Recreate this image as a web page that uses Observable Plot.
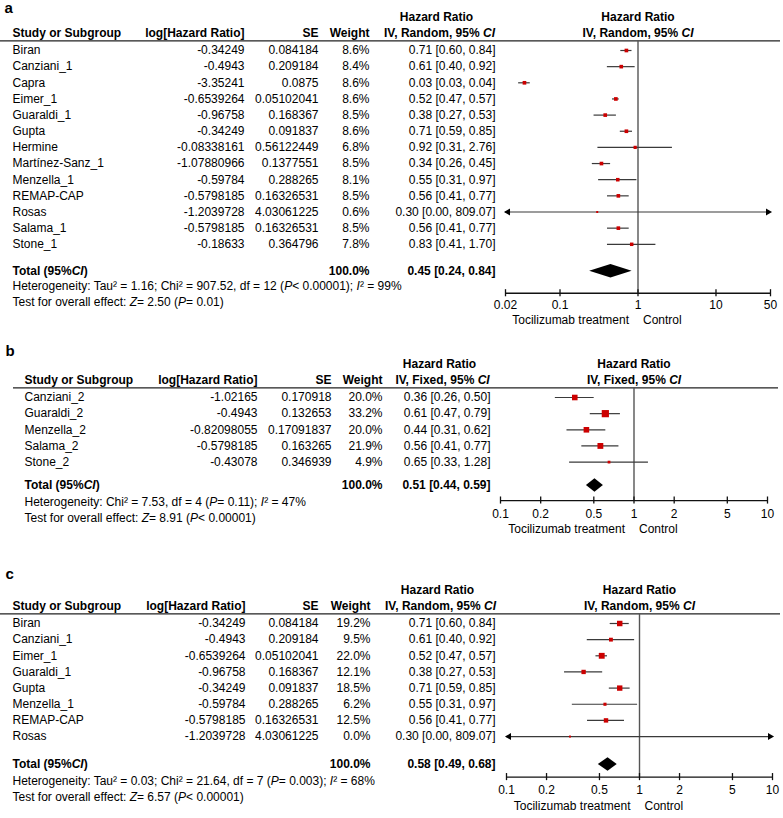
<!DOCTYPE html>
<html>
<head>
<meta charset="utf-8">
<script src="https://cdn.jsdelivr.net/npm/d3@7"></script>
<script src="https://cdn.jsdelivr.net/npm/@observablehq/plot@0.6"></script>
<style>
  html, body { margin: 0; padding: 0; background: #fff; }
  #chart { width: 783px; }
  #chart svg { display: block; }
</style>
</head>
<body>
<div id="chart"></div>
<script>
// ---------- Panel a data ----------
const studiesA = ["Biran","Canziani_1","Capra","Eimer_1","Guaraldi_1","Gupta","Hermine","Martínez-Sanz_1","Menzella_1","REMAP-CAP","Rosas","Salama_1","Stone_1"];
const logHRA = ["-0.34249","-0.4943","-3.35241","-0.6539264","-0.96758","-0.34249","-0.08338161","-1.07880966","-0.59784","-0.5798185","-1.2039728","-0.5798185","-0.18633"];
const seA = ["0.084184","0.209184","0.0875","0.05102041","0.168367","0.091837","0.56122449","0.1377551","0.288265","0.16326531","4.03061225","0.16326531","0.364796"];
const weightA = [8.6,8.4,8.6,8.6,8.5,8.6,6.8,8.5,8.1,8.5,0.6,8.5,7.8];
const hrA = [0.71,0.61,0.03,0.52,0.38,0.71,0.92,0.34,0.55,0.56,0.30,0.56,0.83];
const loA = [0.60,0.40,0.03,0.47,0.27,0.59,0.31,0.26,0.31,0.41,0.00,0.41,0.41];
const hiA = [0.84,0.92,0.04,0.57,0.53,0.85,2.76,0.45,0.97,0.77,809.07,0.77,1.70];
const totalA = [0.45,0.24,0.84];
const hetA = "Heterogeneity: Tau² = 1.16; Chi² = 907.52, df = 12 ({P}< 0.00001); {I}² = 99%";
const testA = "Test for overall effect: {Z}= 2.50 ({P}= 0.01)";
const ticksA = [0.02,0.1,1,10,50];
const tickLabelsA = ["0.02","0.1","1","10","50"];

// ---------- Panel b data ----------
const studiesB = ["Canziani_2","Guaraldi_2","Menzella_2","Salama_2","Stone_2"];
const logHRB = ["-1.02165","-0.4943","-0.82098055","-0.5798185","-0.43078"];
const seB = ["0.170918","0.132653","0.17091837","0.163265","0.346939"];
const weightB = [20.0,33.2,20.0,21.9,4.9];
const hrB = [0.36,0.61,0.44,0.56,0.65];
const loB = [0.26,0.47,0.31,0.41,0.33];
const hiB = [0.50,0.79,0.62,0.77,1.28];
const totalB = [0.51,0.44,0.59];
const hetB = "Heterogeneity: Chi² = 7.53, df = 4 ({P}= 0.11); {I}² = 47%";
const testB = "Test for overall effect: {Z}= 8.91 ({P}< 0.00001)";
const ticksB = [0.1,0.2,0.5,1,2,5,10];
const tickLabelsB = ["0.1","0.2","0.5","1","2","5","10"];

// ---------- Panel c data ----------
const studiesC = ["Biran","Canziani_1","Eimer_1","Guaraldi_1","Gupta","Menzella_1","REMAP-CAP","Rosas"];
const logHRC = ["-0.34249","-0.4943","-0.6539264","-0.96758","-0.34249","-0.59784","-0.5798185","-1.2039728"];
const seC = ["0.084184","0.209184","0.05102041","0.168367","0.091837","0.288265","0.16326531","4.03061225"];
const weightC = [19.2,9.5,22.0,12.1,18.5,6.2,12.5,0.0];
const hrC = [0.71,0.61,0.52,0.38,0.71,0.55,0.56,0.30];
const loC = [0.60,0.40,0.47,0.27,0.59,0.31,0.41,0.00];
const hiC = [0.84,0.92,0.57,0.53,0.85,0.97,0.77,809.07];
const totalC = [0.58,0.49,0.68];
const hetC = "Heterogeneity: Tau² = 0.03; Chi² = 21.64, df = 7 ({P}= 0.003); {I}² = 68%";
const testC = "Test for overall effect: {Z}= 6.57 ({P}< 0.00001)";
const ticksC = [0.1,0.2,0.5,1,2,5,10];
const tickLabelsC = ["0.1","0.2","0.5","1","2","5","10"];

// ---------- drawing ----------
const W = 783, U = 16.15;
const FONT = "'Liberation Sans', Arial, Helvetica, sans-serif";
const RED = "#cc0000";
const f2 = v => v.toFixed(2);

function italicize(svg) {
  svg.querySelectorAll("text").forEach(t => {
    const s = t.textContent;
    if (!s.includes("{")) return;
    t.textContent = "";
    s.split(/(\{[^}]*\})/).forEach(part => {
      if (!part) return;
      const ts = document.createElementNS("http://www.w3.org/2000/svg", "tspan");
      if (part.startsWith("{")) { ts.setAttribute("font-style", "italic"); ts.textContent = part.slice(1, -1); }
      else ts.textContent = part;
      t.appendChild(ts);
    });
  });
}

function panel(cfg) {
  const n = cfg.studies.length;
  const rows = cfg.studies.map((s, i) => {
    const lg = +cfg.logHR[i], se = +cfg.se[i];
    return {i, s, lgText: cfg.logHR[i], seText: cfg.se[i], w: cfg.weight[i],
      label: `${f2(cfg.hr[i])} [${f2(cfg.lo[i])}, ${f2(cfg.hi[i])}]`,
      est: Math.exp(lg), l: Math.exp(lg - 1.96 * se), h: Math.exp(lg + 1.96 * se)};
  });
  const [d0, d1] = cfg.domain;
  const L = cfg.lay;
  const T = n - 1 + L.gap;
  const R = {label: L.label, head1: -2.07, head2: -1.08, line: -0.6, total: T,
    het: T + L.het, test: T + L.test, axis: T + L.axis, tick: T + L.tick, side: T + L.side};
  const ml = cfg.fl, mr = W - cfg.fr;
  const dxOf = x => x - ml;
  const c = v => () => v;
  const [tHR, tLo, tHi] = cfg.total;
  const diamond = [
    {x: tLo, y1: R.total, y2: R.total},
    {x: tHR, y1: R.total - 0.42, y2: R.total + 0.42},
    {x: tHi, y1: R.total, y2: R.total}
  ];
  const ticks = cfg.ticks.map((v, k) => ({v, t: cfg.tickLabels[k]}));
  const B = {fontWeight: "bold"};

  const svg = Plot.plot({
    width: W, height: cfg.H,
    marginLeft: ml, marginRight: mr, marginTop: 0, marginBottom: 0,
    style: {fontFamily: FONT, fontSize: "12px", background: "white", overflow: "visible", color: "#000"},
    x: {type: "log", domain: cfg.domain, axis: null},
    y: {type: "linear", domain: [-cfg.first / U, (cfg.H - cfg.first) / U], range: [0, cfg.H], axis: null},
    r: {type: "identity"},
    marks: [
      // panel tag
      Plot.text([cfg.tag], {frameAnchor: "left", y: c(R.label), text: d => d, textAnchor: "start", dx: dxOf(cfg.tagX), fontSize: 15, fontWeight: "bold"}),
      // table header
      Plot.text(["Hazard Ratio"], {frameAnchor: "left", y: c(R.head1), text: d => d, textAnchor: "middle", dx: dxOf(cfg.hrHead), ...B}),
      Plot.text([`IV, ${cfg.method}, 95% {CI}`], {frameAnchor: "left", y: c(R.head2), text: d => d, textAnchor: "middle", dx: dxOf(cfg.hrHead + 3), ...B}),
      Plot.text(["Study or Subgroup"], {frameAnchor: "left", y: c(R.head2), text: d => d, textAnchor: "start", dx: dxOf(cfg.nameX), ...B}),
      Plot.text(["log[Hazard Ratio]"], {frameAnchor: "left", y: c(R.head2), text: d => d, textAnchor: "end", dx: dxOf(cfg.logX), ...B}),
      Plot.text(["SE"], {frameAnchor: "left", y: c(R.head2), text: d => d, textAnchor: "end", dx: dxOf(cfg.seX), ...B}),
      Plot.text(["Weight"], {frameAnchor: "left", y: c(R.head2), text: d => d, textAnchor: "end", dx: dxOf(cfg.wX), ...B}),
      // forest header
      Plot.text(["Hazard Ratio"], {x: c(1), y: c(R.head1), text: d => d, textAnchor: "middle", ...B}),
      Plot.text([`IV, ${cfg.method}, 95% {CI}`], {x: c(1), y: c(R.head2), text: d => d, textAnchor: "middle", ...B}),
      // header rule
      Plot.ruleY([R.line], {insetLeft: -(ml - cfg.lineX1), insetRight: -(cfg.lineX2 - cfg.fr), stroke: "#222", strokeWidth: 1.3}),
      // table body
      Plot.text(rows, {frameAnchor: "left", y: "i", text: "s", textAnchor: "start", dx: dxOf(cfg.nameX)}),
      Plot.text(rows, {frameAnchor: "left", y: "i", text: "lgText", textAnchor: "end", dx: dxOf(cfg.logX)}),
      Plot.text(rows, {frameAnchor: "left", y: "i", text: "seText", textAnchor: "end", dx: dxOf(cfg.seX)}),
      Plot.text(rows, {frameAnchor: "left", y: "i", text: d => d.w.toFixed(1) + "%", textAnchor: "end", dx: dxOf(cfg.wX)}),
      Plot.text(rows, {frameAnchor: "left", y: "i", text: "label", textAnchor: "end", dx: dxOf(cfg.hrX)}),
      // total row
      Plot.text(["Total (95%{CI})"], {frameAnchor: "left", y: c(R.total), text: d => d, textAnchor: "start", dx: dxOf(cfg.nameX), ...B}),
      Plot.text(["100.0%"], {frameAnchor: "left", y: c(R.total), text: d => d, textAnchor: "end", dx: dxOf(cfg.wX), ...B}),
      Plot.text([`${f2(tHR)} [${f2(tLo)}, ${f2(tHi)}]`], {frameAnchor: "left", y: c(R.total), text: d => d, textAnchor: "end", dx: dxOf(cfg.hrX), ...B}),
      // footers
      Plot.text([cfg.het], {frameAnchor: "left", y: c(R.het), text: d => d, textAnchor: "start", dx: dxOf(cfg.nameX)}),
      Plot.text([cfg.test], {frameAnchor: "left", y: c(R.test), text: d => d, textAnchor: "start", dx: dxOf(cfg.nameX)}),
      // null line
      Plot.ruleX([1], {y1: c(R.line), y2: c(R.axis), stroke: "#555", strokeWidth: 1.4}),
      // CI lines
      Plot.ruleY(rows, {y: "i", x1: d => Math.max(d.l, d0), x2: d => Math.min(d.h, d1), stroke: "#3a3a3a", strokeWidth: 1.2}),
      Plot.dot(rows.filter(d => d.l < d0), {x: c(d0), y: "i", symbol: "triangle", rotate: -90, r: 2.6, fill: "#000", dx: 2.5}),
      Plot.dot(rows.filter(d => d.h > d1), {x: c(d1), y: "i", symbol: "triangle", rotate: 90, r: 2.6, fill: "#000", dx: -2.5}),
      // squares
      Plot.dot(rows, {x: "est", y: "i", symbol: "square", fill: RED, r: d => Math.max(2, 1.25 * Math.sqrt(d.w)) / Math.sqrt(Math.PI)}),
      // diamond
      Plot.areaY(diamond, {x: "x", y1: "y1", y2: "y2", fill: "#000"}),
      // axis
      Plot.ruleY([R.axis], {x1: c(d0), x2: c(d1), stroke: "#111", strokeWidth: 1.3}),
      Plot.ruleX(ticks, {x: "v", y1: c(R.axis - 0.22), y2: c(R.axis + 0.22), stroke: "#111", strokeWidth: 1.3}),
      Plot.text(ticks, {x: "v", y: c(R.tick), text: "t", textAnchor: "middle"}),
      Plot.text(["Tocilizumab treatment"], {x: c(1), y: c(R.side), text: d => d, textAnchor: "end", dx: -9}),
      Plot.text(["Control"], {x: c(1), y: c(R.side), text: d => d, textAnchor: "start", dx: 5})
    ]
  });
  italicize(svg);
  return svg;
}

const chart = document.getElementById("chart");
chart.appendChild(panel({
  tag: "a", method: "Random", H: 345, first: 50,
  lay: {label: -2.65, gap: 1.67, het: 0.93, test: 1.9, axis: 1.36, tick: 2.1, side: 3.03},
  fl: 505, fr: 770, domain: [0.02, 50], ticks: ticksA, tickLabels: tickLabelsA,
  tagX: 4, nameX: 12, logX: 244, seX: 318, wX: 369, hrX: 495, hrHead: 436, lineX1: 0, lineX2: 780,
  studies: studiesA, logHR: logHRA, se: seA, weight: weightA, hr: hrA, lo: loA, hi: hiA, total: totalA, het: hetA, test: testA
}));
chart.appendChild(panel({
  tag: "b", method: "Fixed", H: 225, first: 52,
  lay: {label: -2.85, gap: 1.45, het: 1.05, test: 2.03, axis: 0.93, tick: 1.8, side: 2.72},
  fl: 500, fr: 767, domain: [0.1, 10], ticks: ticksB, tickLabels: tickLabelsB,
  tagX: 5, nameX: 24, logX: 257, seX: 331, wX: 382, hrX: 490, hrHead: 439, lineX1: 13, lineX2: 778,
  studies: studiesB, logHR: logHRB, se: seB, weight: weightB, hr: hrB, lo: loB, hi: hiB, total: totalB, het: hetB, test: testB
}));
chart.appendChild(panel({
  tag: "c", method: "Random", H: 248, first: 53,
  lay: {label: -3.05, gap: 1.73, het: 1.05, test: 2.03, axis: 0.78, tick: 1.62, side: 2.6},
  fl: 506, fr: 772, domain: [0.1, 10], ticks: ticksC, tickLabels: tickLabelsC,
  tagX: 5, nameX: 12, logX: 245, seX: 318, wX: 370, hrX: 495, hrHead: 437, lineX1: 0, lineX2: 780,
  studies: studiesC, logHR: logHRC, se: seC, weight: weightC, hr: hrC, lo: loC, hi: hiC, total: totalC, het: hetC, test: testC
}));
</script>
</body>
</html>
